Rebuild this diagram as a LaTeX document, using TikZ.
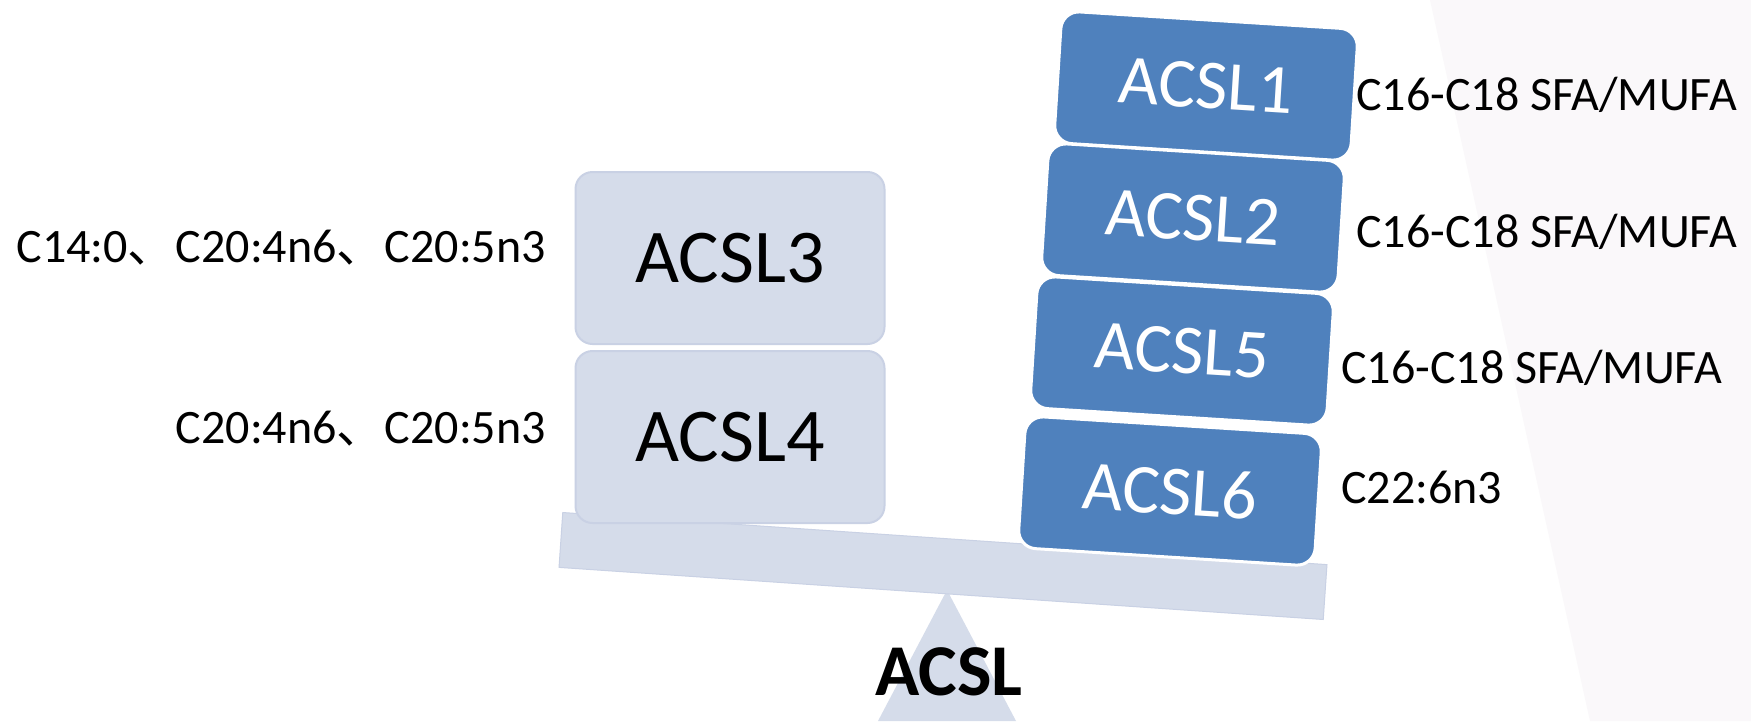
\documentclass[tikz,border=0pt]{standalone}
\usepackage{fontspec}
\setmainfont{Carlito}
\newfontfamily\cjk{Noto Sans CJK SC}
\definecolor{paleblue}{HTML}{D5DCEA}
\definecolor{paleedge}{HTML}{C9D1E4}
\definecolor{stackblue}{HTML}{4F81BD}
\definecolor{wedgepink}{HTML}{FAF8FA}
\begin{document}
\begin{tikzpicture}[x=1pt,y=-1pt,
  palebox/.style={draw=paleedge, line width=2pt, fill=paleblue, rounded corners=17pt,
    minimum width=309pt, minimum height=172pt, inner sep=0pt,
    font=\fontsize{76}{80}\selectfont},
  bluebox/.style={draw=white, line width=3pt, fill=stackblue, rounded corners=18pt,
    minimum width=297pt, minimum height=132pt, rotate=-3.6, inner sep=0pt,
    text=white, font=\fontsize{70}{75}\selectfont},
  sidelabel/.style={font=\fontsize{48}{52}\selectfont, inner sep=0pt}
]
\useasboundingbox (0,0) rectangle (1751,721);
\fill[white] (0,0) rectangle (1751,721);
% pale wedge at the right edge
\fill[wedgepink] (1430,0) -- (1751,0) -- (1751,721) -- (1590,721) -- cycle;

% fulcrum and beam of the balance
\fill[paleblue] (947,590) -- (1016,721) -- (878,721) -- cycle;
\node[draw=paleedge, line width=1pt, fill=paleblue, minimum width=766pt,
  minimum height=55pt, rotate=-3.9, inner sep=0pt] (beam) at (943,566) {};

% left pan
\node[palebox] (acsl3) at (730,258) {ACSL3};
\node[palebox] (acsl4) at (730,437) {ACSL4};

% right pan: tilted stack
\node[bluebox] (acsl1) at (1206,86) {ACSL1};
\node[bluebox] (acsl2) at (1193,218) {ACSL2};
\node[bluebox] (acsl5) at (1182,351) {ACSL5};
\node[bluebox] (acsl6) at (1170,491) {ACSL6};

% substrate labels
\node[sidelabel, anchor=base east] (sub3) at (546,262) {C14:0{\cjk 、}C20:4n6{\cjk 、}C20:5n3};
\node[sidelabel, anchor=base east] (sub4) at (546,443) {C20:4n6{\cjk 、}C20:5n3};
\node[sidelabel, anchor=base west] (sub1) at (1356,110) {C16-C18 SFA/MUFA};
\node[sidelabel, anchor=base west] (sub2) at (1356,247) {C16-C18 SFA/MUFA};
\node[sidelabel, anchor=base west] (sub5) at (1341,383) {C16-C18 SFA/MUFA};
\node[sidelabel, anchor=base west] (sub6) at (1341,503) {C22:6n3};

% family name on the fulcrum
\node[font=\bfseries\fontsize{73}{78}\selectfont, anchor=base, inner sep=0pt] (title) at (949,695) {ACSL};
\end{tikzpicture}
\end{document}
